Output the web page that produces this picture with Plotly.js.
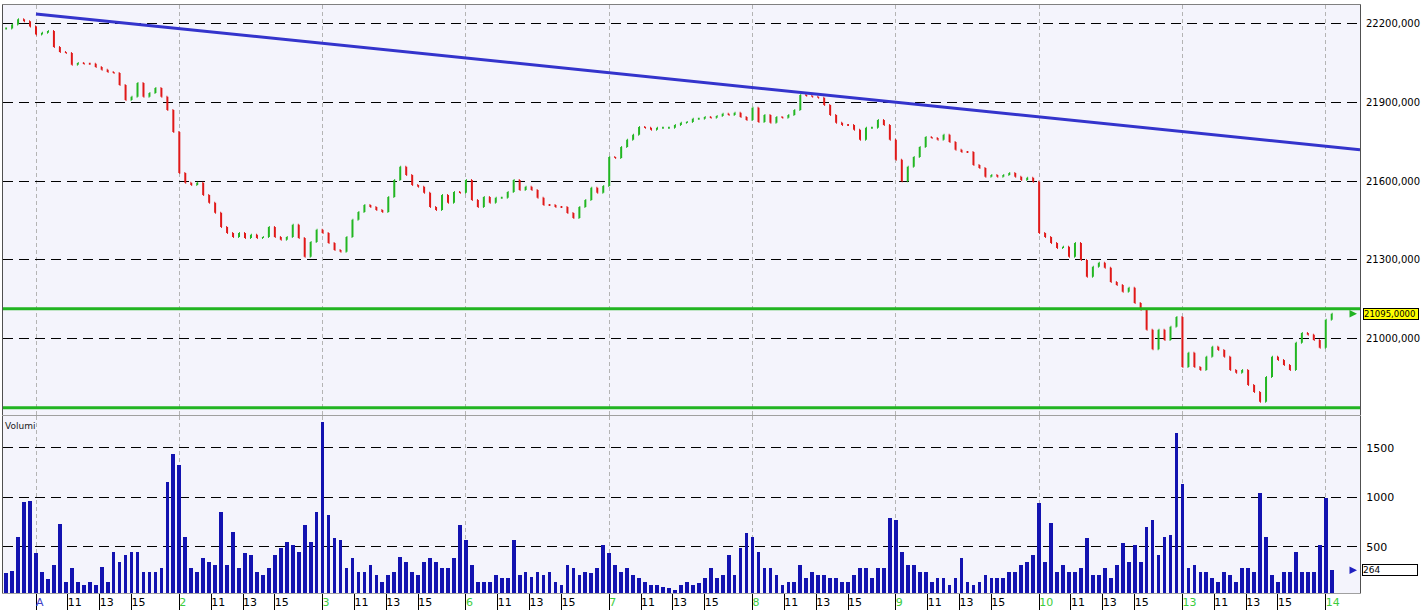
<!DOCTYPE html>
<html><head><meta charset="utf-8">
<script src="https://cdn.plot.ly/plotly-3.0.1.min.js"></script>
<style>html,body{margin:0;padding:0;background:#fff}#chart{width:1421px;height:610px}</style>
</head><body><div id="chart"></div>
<script>
// ---- data ----
const dayLabels = ['A','2','3','6','7','8','9','10','13','14'];
const hourLabels = [11, 13, 15];

// closing prices, 24 slots per session (prev session: last slots only)
const pricePrev = [22182, 22198, 22218, 22210, 22190];
const priceA  = [22160, 22166, 22173, 22112, 22093, 22089, 22044, 22051, 22048, 22048, 22036, 22025, 22017, 22013, 21967, 21910, 21922, 21975, 21922, 21937, 21956, 21922, 21872, 21788];
const price2  = [21632, 21594, 21586, 21594, 21548, 21518, 21480, 21426, 21403, 21388, 21403, 21384, 21396, 21384, 21388, 21426, 21388, 21377, 21388, 21434, 21384, 21312, 21369, 21415];
const price3  = [21403, 21365, 21338, 21331, 21388, 21453, 21483, 21510, 21502, 21491, 21483, 21540, 21605, 21655, 21624, 21586, 21579, 21556, 21502, 21491, 21548, 21518, 21559, 21556];
const price6  = [21605, 21529, 21502, 21540, 21518, 21537, 21537, 21559, 21605, 21567, 21579, 21567, 21537, 21510, 21510, 21502, 21502, 21479, 21460, 21502, 21529, 21575, 21556, 21582];
const price7  = [21693, 21689, 21731, 21758, 21777, 21807, 21804, 21796, 21804, 21804, 21804, 21815, 21823, 21826, 21838, 21838, 21845, 21842, 21849, 21857, 21853, 21861, 21845, 21834];
const price8  = [21880, 21826, 21853, 21823, 21845, 21842, 21853, 21872, 21929, 21926, 21922, 21918, 21891, 21853, 21823, 21815, 21815, 21796, 21758, 21804, 21804, 21834, 21815, 21758];
const price9  = [21682, 21600, 21655, 21693, 21731, 21769, 21765, 21758, 21777, 21750, 21720, 21712, 21712, 21662, 21651, 21617, 21624, 21617, 21624, 21632, 21617, 21605, 21613, 21598];
const price10 = [21403, 21388, 21365, 21346, 21350, 21312, 21365, 21300, 21236, 21274, 21289, 21270, 21216, 21205, 21179, 21194, 21136, 21110, 21034, 20960, 21034, 20995, 21045, 21083];
const price13 = [20892, 20946, 20892, 20881, 20931, 20969, 20957, 20931, 20881, 20870, 20881, 20823, 20797, 20760, 20854, 20931, 20919, 20900, 20881, 20984, 21022, 21015, 20995, 20965];
const price14 = [21072, 21095];

// volumes, same slots
const volPrev = [240, 260, 600, 950, 960];
const volA  = [435, 250, 180, 320, 730, 150, 285, 150, 115, 150, 115, 300, 150, 450, 350, 420, 450, 450, 250, 250, 250, 285, 1160, 1440];
const vol2  = [1330, 600, 285, 250, 385, 350, 320, 857, 320, 655, 285, 435, 420, 250, 217, 285, 420, 487, 554, 520, 450, 722, 554, 857];
const vol3  = [1760, 823, 588, 571, 285, 385, 250, 250, 320, 217, 150, 217, 250, 403, 350, 250, 217, 350, 385, 350, 285, 285, 385, 722];
const vol6  = [570, 320, 150, 150, 150, 217, 183, 183, 571, 217, 250, 200, 250, 217, 250, 150, 115, 320, 285, 217, 250, 234, 285, 520];
const vol7  = [435, 320, 250, 285, 217, 183, 150, 115, 115, 100, 82, 65, 115, 150, 115, 133, 183, 285, 183, 217, 420, 217, 487, 640];
const vol8  = [605, 450, 285, 285, 217, 115, 150, 150, 320, 183, 250, 217, 217, 183, 183, 150, 150, 217, 285, 285, 183, 285, 285, 790];
const vol9  = [773, 450, 320, 320, 250, 250, 150, 183, 183, 115, 183, 385, 150, 115, 150, 217, 183, 183, 183, 250, 250, 320, 350, 420];
const vol10 = [940, 350, 740, 250, 320, 250, 250, 285, 588, 217, 217, 285, 183, 320, 537, 350, 520, 350, 705, 770, 420, 605, 620, 1650];
const vol13 = [1140, 285, 320, 250, 250, 183, 150, 250, 217, 150, 285, 285, 250, 1042, 600, 217, 150, 250, 250, 450, 250, 250, 250, 520];
const vol14 = [990, 264];

const trendTimes = [0, 9.239];      // session units (A = 0)
const trendPrices = [22238, 21720];
const levelPrices = [21114, 20737];
const priceTicks = [21000, 21300, 21600, 21900, 22200];
const volTicks = [500, 1000, 1500];
const lastPriceText = '21095,0000';
const lastVolText = '264';

// ---- build ----
const SLOTS = 24, SESSION_START = 9, SESSION_HOURS = 9;
const priceDays = [pricePrev, priceA, price2, price3, price6, price7, price8, price9, price10, price13, price14];
const volDays = [volPrev, volA, vol2, vol3, vol6, vol7, vol8, vol9, vol10, vol13, vol14];
const t = [], close = [], vol = [];
priceDays.forEach((arr, d) => {
  const k = d - 1;
  const first = d === 0 ? SLOTS - arr.length : 0;
  arr.forEach((v, j) => {
    t.push(k + (first + j) / SLOTS);
    close.push(v);
    vol.push(volDays[d][j]);
  });
});
const open = close.map((c, i) => i ? close[i - 1] : c);
const high = close.map((c, i) => Math.max(c, open[i]));
const low = close.map((c, i) => Math.min(c, open[i]));

const dayStarts = dayLabels.map((_, k) => k);
const tickVals = [], tickText = [];
dayLabels.forEach((lab, k) => {
  tickVals.push(k);
  tickText.push('<span style="color:' + (k === 0 ? '#4040c8' : '#3ccc3c') + '">' + lab + '</span>');
  if (k < dayLabels.length - 1) hourLabels.forEach(h => {
    tickVals.push(k + (h - SESSION_START) / SESSION_HOURS);
    tickText.push(String(h));
  });
});

const xRange = [-0.2303, 9.239];
const border = '#505050';

const traces = [
  {type: 'ohlc', x: t, open: open, high: high, low: low, close: close,
   xaxis: 'x', yaxis: 'y', tickwidth: 0.15,
   increasing: {line: {color: '#22b622', width: 2}},
   decreasing: {line: {color: '#e01818', width: 2}}, hoverinfo: 'skip'},
  {type: 'scatter', mode: 'lines', x: trendTimes, y: trendPrices, xaxis: 'x', yaxis: 'y',
   line: {color: '#3434cc', width: 3}, hoverinfo: 'skip'},
  {type: 'bar', x: t, y: vol, xaxis: 'x2', yaxis: 'y2', width: 0.62 / SLOTS,
   marker: {color: '#1212b0', line: {width: 0}}, hoverinfo: 'skip'},
  {type: 'scatter', x: [null], y: [null], xaxis: 'x3', yaxis: 'y2', hoverinfo: 'skip'},
  {type: 'scatter', x: [null], y: [null], xaxis: 'x4', yaxis: 'y2', hoverinfo: 'skip'}
];

const lastClose = close[close.length - 1];
const lastVol = vol[vol.length - 1];

const layout = {
  width: 1421, height: 610,
  margin: {l: 3, r: 61, t: 5, b: 17, pad: 0},
  paper_bgcolor: '#ffffff', plot_bgcolor: '#f4f4fc',
  showlegend: false,
  font: {family: 'DejaVu Sans, Verdana, sans-serif', size: 11, color: '#000'},
  bargap: 0,
  xaxis: {domain: [0, 1], anchor: 'y', range: xRange, tickvals: dayStarts, showticklabels: false,
    ticks: '', showgrid: true, gridcolor: '#b4b4b4', griddash: '4px,3px', gridwidth: 1,
    zeroline: false, showline: true, mirror: true, linecolor: '#808080', linewidth: 1,
    rangeslider: {visible: false}, fixedrange: true},
  yaxis: {domain: [0.3027, 1], anchor: 'x', side: 'right', range: [20709, 22272],
    tickvals: priceTicks, ticktext: priceTicks.map(v => v.toFixed(3).replace('.', ',')),
    tickfont: {size: 10},
    showgrid: true, gridcolor: '#000', griddash: '10px,6px', gridwidth: 1, zeroline: false,
    showline: true, mirror: true, linecolor: border, linewidth: 1, ticks: '', ticklabelstandoff: 3},
  xaxis2: {anchor: 'y2', range: xRange, tickvals: dayStarts, showticklabels: false, ticks: '',
    showgrid: true, gridcolor: '#b4b4b4', griddash: '4px,3px', gridwidth: 1, zeroline: false,
    showline: true, mirror: true, linecolor: '#a0a0a0', linewidth: 1},
  yaxis2: {domain: [0, 0.301], anchor: 'x2', side: 'right', range: [35, 1823],
    tickvals: volTicks, ticktext: volTicks.map(String),
    showgrid: true, gridcolor: '#000', griddash: '10px,6px', gridwidth: 1, zeroline: false,
    showline: true, mirror: true, linecolor: border, linewidth: 1, ticks: '', ticklabelstandoff: 3},
  xaxis3: {overlaying: 'x2', anchor: 'y2', range: xRange, tickvals: tickVals, ticks: 'outside',
    ticklen: 17, tickcolor: '#000', tickwidth: 1, showticklabels: false, showgrid: false, zeroline: false},
  xaxis4: {overlaying: 'x2', anchor: 'y2', range: xRange, tickvals: tickVals, ticktext: tickText,
    ticks: '', ticklabelposition: 'outside right', ticklabelstandoff: 1, showgrid: false, zeroline: false,
    tickfont: {size: 11, color: '#000'}},
  shapes: levelPrices.map(p => ({type: 'line', xref: 'x domain', yref: 'y', x0: 0, x1: 1, y0: p, y1: p,
    line: {color: '#22b422', width: 3}})),
  annotations: [
    {text: 'Volumi', xref: 'x2 domain', yref: 'y2 domain', x: 0, y: 1, xanchor: 'left', yanchor: 'top',
     showarrow: false, xshift: 0, yshift: -3, font: {size: 9, color: '#202020'}},
    {text: lastPriceText, xref: 'paper', yref: 'y', x: 1, y: lastClose, xanchor: 'left', yanchor: 'middle',
     xshift: 3, showarrow: false, bgcolor: '#ffff00', bordercolor: '#000', borderwidth: 1, borderpad: 0,
     width: 54, align: 'left', font: {size: 8.5, color: '#000'}},
    {text: '', xref: 'paper', yref: 'y', x: 1, y: lastClose, xshift: -3, showarrow: true,
     ax: -8, ay: 0, arrowhead: 2, arrowsize: 1, arrowwidth: 1.5, arrowcolor: '#22b422'},
    {text: lastVolText, xref: 'paper', yref: 'y2', x: 1, y: lastVol, xanchor: 'left', yanchor: 'middle',
     xshift: 2, showarrow: false, bgcolor: '#ffffff', bordercolor: '#000', borderwidth: 1, borderpad: 0,
     width: 54, align: 'left', font: {size: 9, color: '#000'}},
    {text: '', xref: 'paper', yref: 'y2', x: 1, y: lastVol, xshift: -3, showarrow: true,
     ax: -8, ay: 0, arrowhead: 2, arrowsize: 1, arrowwidth: 1.5, arrowcolor: '#2020c0'}
  ]
};

Plotly.newPlot('chart', traces, layout, {staticPlot: true, displayModeBar: false});
</script>
</body></html>
